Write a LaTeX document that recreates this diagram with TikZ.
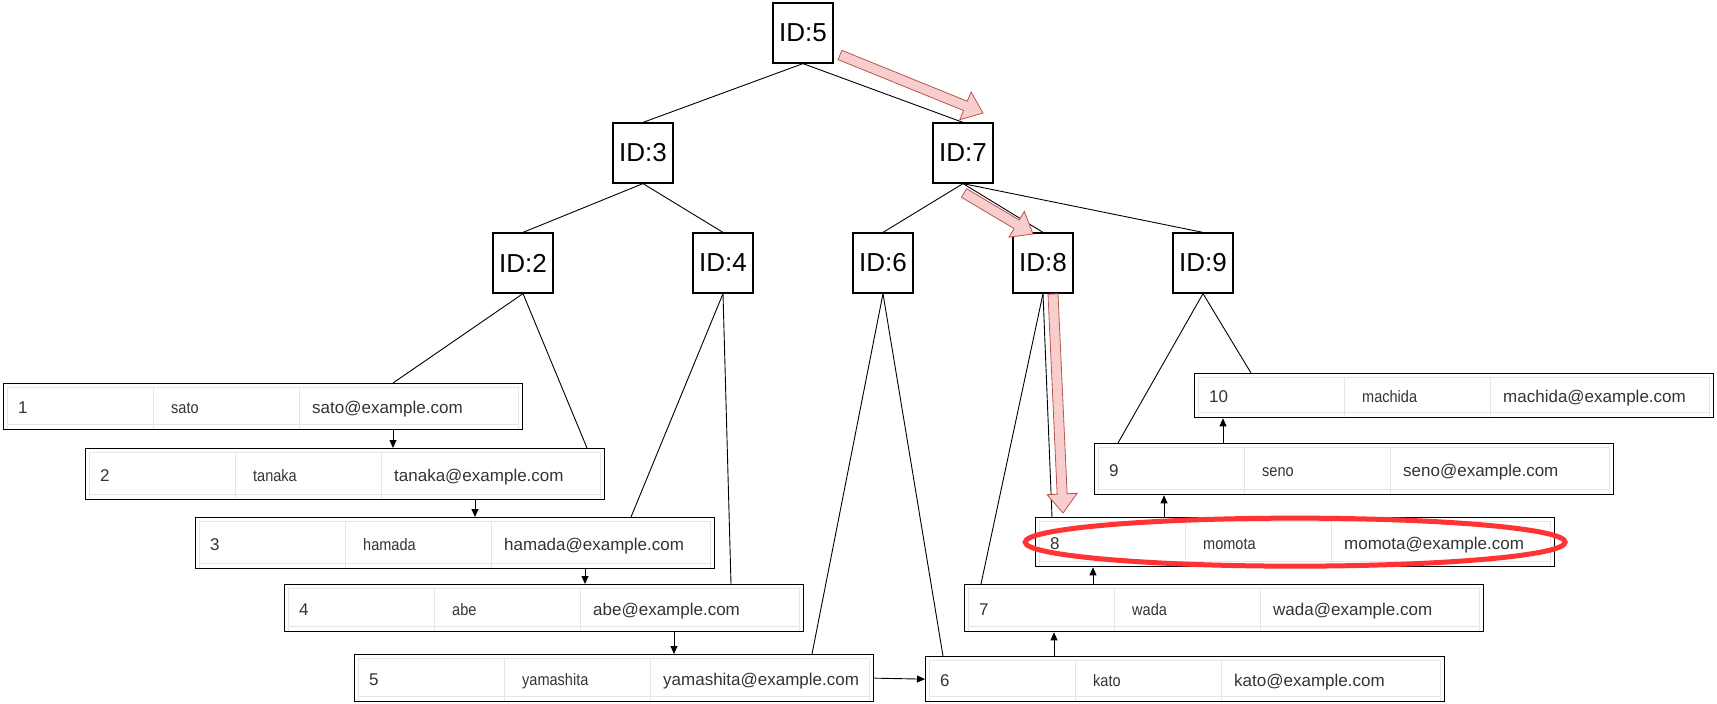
\documentclass[tikz,border=0pt]{standalone}
\usepackage{fontspec}
\setmainfont{Liberation Sans}
\newfontfamily\namefont[FakeStretch=0.88]{Liberation Sans}
\usetikzlibrary{arrows.meta,calc}

\definecolor{pinkfill}{HTML}{F8CECC}
\definecolor{pinkline}{HTML}{B85450}
\definecolor{markred}{HTML}{FF3333}
\definecolor{cellgray}{HTML}{E6E6E6}
\definecolor{celltext}{HTML}{333333}

\tikzset{
  idbox/.style={draw,line width=1.2pt,minimum size=60pt,inner sep=0pt,
    font=\fontsize{26}{28}\selectfont},
  rowbox/.style={draw,line width=1.3pt,minimum width=519pt,inner sep=0pt,anchor=north west},
  tree/.style={line width=0.9pt},
  link/.style={line width=0.9pt,-{Triangle[width=7pt,length=8pt]}},
  cell/.style={draw=cellgray,line width=1pt},
  numtxt/.style={anchor=base west,inner sep=0pt,text=celltext,font=\fontsize{17}{20}\selectfont},
  nametxt/.style={anchor=base west,inner sep=0pt,text=celltext,font=\namefont\fontsize{16.5}{19}\selectfont},
}

% one record row: name, x, y, height, id, user
\newcommand\dbrow[6]{%
  \draw[cell] ([shift={(4pt,1pt)}]#1.south west) |- ([shift={(-5pt,-4pt)}]#1.north east)
     -- ([shift={(-5pt,1pt)}]#1.south east);
  \draw[cell] ([shift={(4pt,6pt)}]#1.south west) -- ([shift={(-5pt,6pt)}]#1.south east);
  \foreach \cx in {150,296}
    \draw[cell] ([xshift=\cx pt,yshift=-4pt]#1.north west) -- ([xshift=\cx pt,yshift=1pt]#1.south west);
  \node[numtxt] (#1-id) at ([xshift=15pt,yshift=-7pt]#1.west) {#5};
  \node[nametxt] (#1-name) at ([xshift=168pt,yshift=-7pt]#1.west) {#6};
  \node[numtxt] (#1-mail) at ([xshift=309pt,yshift=-7pt]#1.west) {#6@example.com};
}

% thick pink arrow from #1 to #2
\newcommand\fatarrow[2]{%
  \coordinate (fa-s) at #1;
  \coordinate (fa-e) at #2;
  \coordinate (fa-b) at ($(fa-e)!19pt!(fa-s)$);
  \filldraw[fill=pinkfill,draw=pinkline,line width=0.8pt]
    ($(fa-s)!5pt!90:(fa-e)$) -- ($(fa-b)!5pt!90:(fa-e)$) -- ($(fa-b)!15pt!90:(fa-e)$)
    -- (fa-e) -- ($(fa-b)!15pt!-90:(fa-e)$) -- ($(fa-b)!5pt!-90:(fa-e)$)
    -- ($(fa-s)!5pt!-90:(fa-e)$) -- cycle;
}

\begin{document}
\begin{tikzpicture}[x=1pt,y=-1pt]
  \useasboundingbox (0,0) rectangle (1717,704);

  % index nodes
  \node[idbox] (id5) at (803,33) {ID:5};
  \node[idbox] (id3) at (643,153) {ID:3};
  \node[idbox] (id7) at (963,153) {ID:7};
  \node[idbox] (id2) at (523,263) {ID:2};
  \node[idbox] (id4) at (723,263) {ID:4};
  \node[idbox] (id6) at (883,263) {ID:6};
  \node[idbox] (id8) at (1043,263) {ID:8};
  \node[idbox] (id9) at (1203,263) {ID:9};

  % leaf rows
  \node[rowbox,minimum height=46pt] (t1) at (3,383) {};
  \node[rowbox,minimum height=51pt] (t2) at (85,448) {};
  \node[rowbox,minimum height=51pt] (t3) at (195,517) {};
  \node[rowbox,minimum height=47pt] (t4) at (284,584) {};
  \node[rowbox,minimum height=47pt] (t5) at (354,654) {};
  \node[rowbox,minimum height=45pt] (t6) at (925,656) {};
  \node[rowbox,minimum height=47pt] (t7) at (964,584) {};
  \node[rowbox,minimum height=49pt] (t8) at (1035,517) {};
  \node[rowbox,minimum height=51pt] (t9) at (1094,443) {};
  \node[rowbox,minimum height=44pt] (t10) at (1194,373) {};

  \dbrow{t1}{3}{383}{46}{1}{sato}
  \dbrow{t2}{85}{448}{51}{2}{tanaka}
  \dbrow{t3}{195}{517}{51}{3}{hamada}
  \dbrow{t4}{284}{584}{47}{4}{abe}
  \dbrow{t5}{354}{654}{47}{5}{yamashita}
  \dbrow{t6}{925}{656}{45}{6}{kato}
  \dbrow{t7}{964}{584}{47}{7}{wada}
  \dbrow{t8}{1035}{517}{49}{8}{momota}
  \dbrow{t9}{1094}{443}{51}{9}{seno}
  \dbrow{t10}{1194}{373}{44}{10}{machida}

  % tree edges
  \foreach \p/\c in {id5/id3,id5/id7,id3/id2,id3/id4,id7/id6,id7/id8,id7/id9}
    \draw[tree] (\p.south) -- (\c.north);
  \foreach \p/\c/\off in {id2/t1/390,id2/t2/502,id4/t3/436,id4/t4/447,id6/t5/458,
      id6/t6/18,id8/t7/17,id8/t8/17,id9/t9/24,id9/t10/57}
    \draw[tree] (\p.south) -- ([xshift=\off pt]\c.north west);

  % leaf links
  \foreach \a/\b in {t1/t2,t2/t3,t3/t4,t4/t5}
    \draw[link] ([xshift=390pt]\a.south west) -- ([xshift=390pt]\a.south west |- \b.north);
  \draw[link] (t5.east) -- (t6.west);
  \foreach \a/\b in {t6/t7,t7/t8,t8/t9,t9/t10}
    \draw[link] ([xshift=129pt]\a.north west) -- ([xshift=129pt]\a.north west |- \b.south);

  % search path
  \fatarrow{(840,55)}{(983,113)}
  \fatarrow{(964,193)}{(1033,234)}
  \fatarrow{(1053,294)}{(1063,513)}

  % found row
  \draw[markred,line width=5pt] (t8.center) ellipse [x radius=270pt,y radius=24pt];
\end{tikzpicture}
\end{document}
